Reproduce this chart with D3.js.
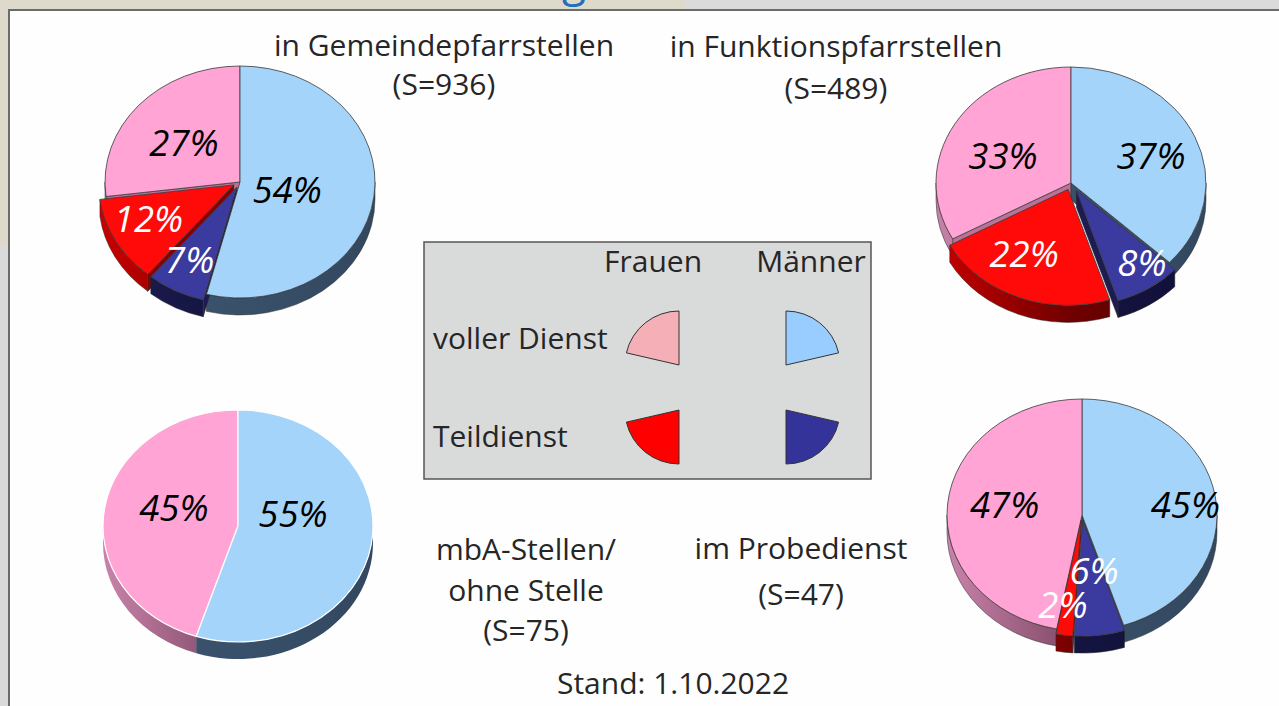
<!DOCTYPE html>
<html><head><meta charset="utf-8">
<script src="https://cdn.jsdelivr.net/npm/d3@7"></script>
<style>html,body{margin:0;padding:0;background:#fff;overflow:hidden}svg{display:block;font-family:'Open Sans',sans-serif}</style>
</head><body>
<svg id="c" width="1279" height="706"></svg>
<script>
// ---------- data ----------
const categories = ["Männer voller Dienst", "Männer Teildienst", "Frauen Teildienst", "Frauen voller Dienst"];
const pieNames = ["in Gemeindepfarrstellen", "in Funktionspfarrstellen", "mbA-Stellen/ohne Stelle", "im Probedienst"];
const sampleSizes = [936, 489, 75, 47];
const gemeindeValues = [54, 7, 12, 27];
const funktionValues = [37, 8, 22, 33];
const mbaValues = [55, 0, 0, 45];
const probeValues = [45, 6, 2, 47];
const legendColumns = ["Frauen", "Männer"];
const legendRows = ["voller Dienst", "Teildienst"];
const standText = "Stand: 1.10.2022";

// ---------- styles / layout ----------
const topColor = ["#a5d4fb", "#3a3a9f", "#ff0909", "#ffa4d4"];
const labelColor = ["#000", "#fff", "#fff", "#000"];
const faceColor = ["#3a5068", "#1c1c52", "#8a0000", "#b97396"];
const wallStops = [
  ["#3e5670", "#38506a", "#33485f"],
  ["#1c1c50", "#141440", "#10103a"],
  ["#c80000", "#700000", "#500000"],
  ["#c983aa", "#7c4663", "#5c3048"]
];
const legendColor = ["#99ccff", "#333399", "#ff0000", "#f4b0b6"];
const RX = 135, RY = 116, DEPTH = 17;
const pies = [
  {values: gemeindeValues, cx: 240, cy: 182, explode: [0, 7, 7, 0], stroke: "#3a3a3a",
   labelAngle: [101, 209, 245, 309], labelR: [0.355, 0.77, 0.748, 0.534]},
  {values: funktionValues, cx: 1071, cy: 183, explode: [0, 10, 8, 0], stroke: "#3a3a3a",
   labelAngle: [68.5, 142.7, 209.6, 294.8], labelR: [0.637, 0.867, 0.704, 0.555]},
  {values: mbaValues, cx: 238, cy: 526, explode: [0, 0, 0, 0], stroke: "#ffffff",
   labelAngle: [75.8, 0, 0, 288], labelR: [0.42, 0, 0, 0.5]},
  {values: probeValues, cx: 1082, cy: 515, explode: [0, 6, 6, 0], stroke: "#3a3a3a",
   labelAngle: [83.6, 169.6, 190.3, 278.5], labelR: [0.77, 0.49, 0.79, 0.58]}
];

const svg = d3.select("#c");
const defs = svg.append("defs");

// ---------- background frame ----------
svg.append("rect").attr("width", 1279).attr("height", 706).attr("fill", "#dadada");
svg.append("rect").attr("x", 0).attr("y", 0).attr("width", 686).attr("height", 12).attr("fill", "#dddacb");
svg.append("rect").attr("x", 0).attr("y", 0).attr("width", 9).attr("height", 245).attr("fill", "#dddacb");
svg.append("text").attr("x", 574).attr("y", -4).attr("text-anchor", "middle")
  .attr("font-size", 44).attr("fill", "#1f6fc2").text("g");
svg.append("rect").attr("x", 9).attr("y", 10).attr("width", 1280).attr("height", 700)
  .attr("fill", "#fefefe").attr("stroke", "#6b6b6b").attr("stroke-width", 2);

const fmtPct = d => d + "%";

function P(c, a, z) { return [c[0] + RX * Math.sin(a), c[1] - RY * Math.cos(a) + z]; }

function topPath(c, a0, a1) {
  const p0 = P(c, a0, 0), p1 = P(c, a1, 0);
  const large = (a1 - a0) > Math.PI ? 1 : 0;
  return `M${c}L${p0}A${RX},${RY} 0 ${large} 1 ${p1}Z`;
}
function wallPath(c, a0, a1) {
  const b0 = Math.max(a0, Math.PI / 2), b1 = Math.min(a1, 3 * Math.PI / 2);
  if (b1 <= b0) return null;
  const p0 = P(c, b0, 0), p1 = P(c, b1, 0), q1 = P(c, b1, DEPTH), q0 = P(c, b0, DEPTH);
  return `M${p0}A${RX},${RY} 0 0 1 ${p1}L${q1}A${RX},${RY} 0 0 0 ${q0}Z`;
}
function facePath(c, a) {
  const p = P(c, a, 0), q = P(c, a, DEPTH);
  return `M${c}L${p}L${q}L${[c[0], c[1] + DEPTH]}Z`;
}

pies.forEach((L, pi) => {
  const items = L.values.map((v, i) => ({v, i})).filter(d => d.v > 0);
  const arcs = d3.pie().sort(null).value(d => d.v).startAngle(0).endAngle(2 * Math.PI)(items);
  arcs.forEach(a => {
    const i = a.data.i;
    const m = (a.startAngle + a.endAngle) / 2;
    const e = L.explode[i];
    a.c = [L.cx + e * Math.sin(m), L.cy - e * Math.cos(m) * RY / RX];
    a.depthKey = -Math.cos(m) + e * 0.05;
    const gid = `w${pi}_${i}`;
    const gr = defs.append("linearGradient").attr("id", gid).attr("gradientUnits", "userSpaceOnUse")
      .attr("x1", L.cx - RX).attr("x2", L.cx + RX).attr("y1", 0).attr("y2", 0);
    wallStops[i].forEach((s, k) => gr.append("stop").attr("offset", k / 2).attr("stop-color", s));
    a.gid = gid;
  });
  const g = svg.append("g");
  const sorted = arcs.slice().sort((x, y) => x.depthKey - y.depthKey);
  const sideStroke = pi === 2 ? "none" : "#2a2a2a";
  sorted.forEach(a => {
    const i = a.data.i;
    if (-Math.sin(a.startAngle) > 0.01)
      g.append("path").attr("d", facePath(a.c, a.startAngle)).attr("fill", faceColor[i])
        .attr("stroke", sideStroke).attr("stroke-width", 0.5);
    if (Math.sin(a.endAngle) > 0.01)
      g.append("path").attr("d", facePath(a.c, a.endAngle)).attr("fill", faceColor[i])
        .attr("stroke", sideStroke).attr("stroke-width", 0.5);
    const w = wallPath(a.c, a.startAngle, a.endAngle);
    if (w) g.append("path").attr("d", w).attr("fill", `url(#${a.gid})`)
      .attr("stroke", sideStroke).attr("stroke-width", 0.5);
  });
  sorted.forEach(a => {
    const i = a.data.i;
    g.append("path").attr("d", topPath(a.c, a.startAngle, a.endAngle)).attr("fill", topColor[i])
      .attr("stroke", L.stroke).attr("stroke-width", pi === 2 ? 1.2 : 0.8).attr("stroke-linejoin", "round");
  });
  arcs.forEach(a => {
    const i = a.data.i;
    const th = L.labelAngle[i] * Math.PI / 180, r = L.labelR[i];
    g.append("text")
      .attr("x", L.cx + r * RX * Math.sin(th))
      .attr("y", L.cy - r * RY * Math.cos(th))
      .attr("dy", "0.36em").attr("text-anchor", "middle")
      .attr("font-size", 36.5).attr("font-style", "italic").attr("fill", labelColor[i])
      .text(fmtPct(a.data.v));
  });
});

// ---------- titles ----------
const txtColor = "#262626";
const FS = 30;
const titleBlocks = [
  {lines: [pieNames[0], `(S=${sampleSizes[0]})`], x: 444, y: [56, 95]},
  {lines: [pieNames[1], `(S=${sampleSizes[1]})`], x: 836, y: [57, 99]},
  {lines: ["mbA-Stellen/", "ohne Stelle", `(S=${sampleSizes[2]})`], x: 526, y: [560, 601, 641]},
  {lines: [pieNames[3], `(S=${sampleSizes[3]})`], x: 801, y: [559, 605]},
  {lines: [standText], x: 673, y: [694]}
];
titleBlocks.forEach(b => {
  b.lines.forEach((t, k) => svg.append("text").attr("x", b.x).attr("y", b.y[k])
    .attr("text-anchor", "middle").attr("font-size", FS).attr("fill", txtColor).text(t));
});

// ---------- legend ----------
const lg = svg.append("g");
lg.append("rect").attr("x", 424).attr("y", 242).attr("width", 447).attr("height", 237)
  .attr("fill", "#d9dada").attr("stroke", "#555").attr("stroke-width", 1.5);
const colX = [679, 786], colTextX = [653, 811], rowY = [365, 410], rowTextY = [349, 447];
legendColumns.forEach((t, k) => lg.append("text").attr("x", colTextX[k]).attr("y", 272)
  .attr("text-anchor", "middle").attr("font-size", FS).attr("fill", txtColor).text(t));
legendRows.forEach((t, k) => lg.append("text").attr("x", 433).attr("y", rowTextY[k])
  .attr("font-size", FS).attr("fill", txtColor).text(t));
const wedgeArc = d3.arc().innerRadius(0).outerRadius(54);
const W = 77 * Math.PI / 180;
const legendItems = [
  {cat: 3, col: 0, row: 0, s: -W, e: 0},
  {cat: 0, col: 1, row: 0, s: 0, e: W},
  {cat: 2, col: 0, row: 1, s: Math.PI, e: Math.PI + W},
  {cat: 1, col: 1, row: 1, s: Math.PI - W, e: Math.PI}
];
legendItems.forEach(d => lg.append("path")
  .attr("transform", `translate(${colX[d.col]},${rowY[d.row]})`)
  .attr("d", wedgeArc({startAngle: d.s, endAngle: d.e}))
  .attr("fill", legendColor[d.cat]).attr("stroke", "#333").attr("stroke-width", 1));
</script>
</body></html>
